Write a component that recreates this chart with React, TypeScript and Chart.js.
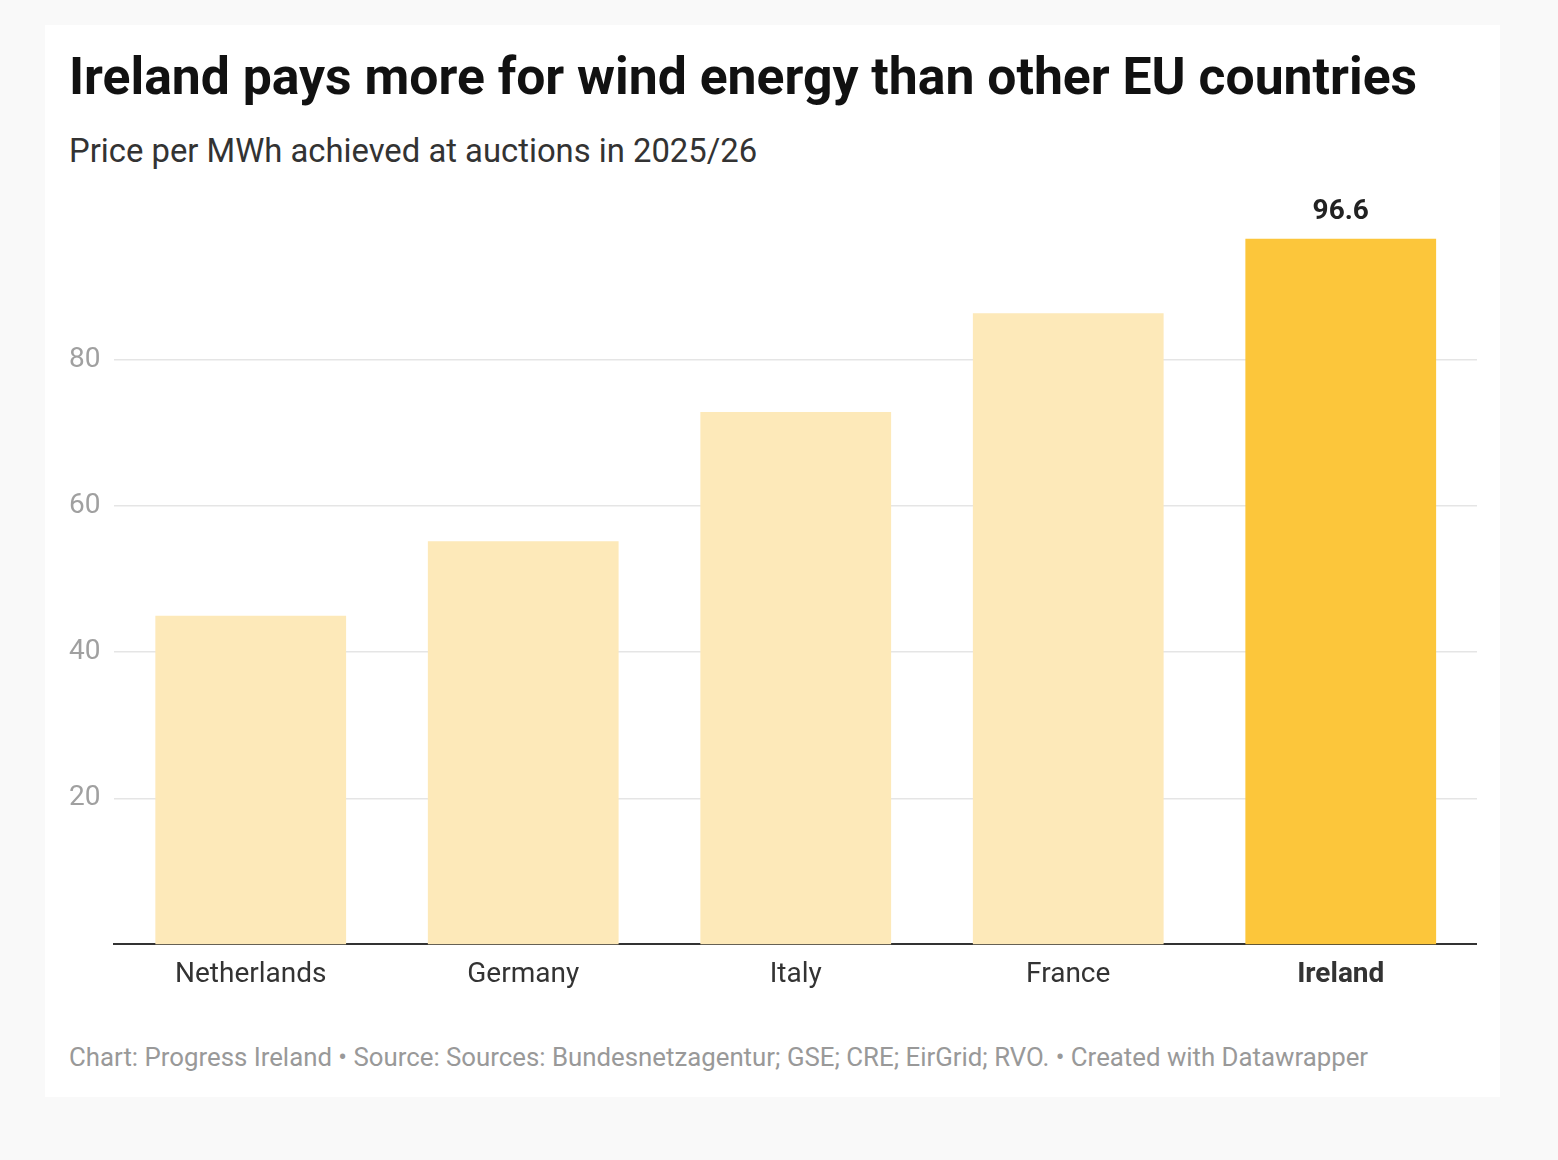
import React, { useEffect, useRef } from "react";
import { Chart, registerables } from "chart.js";

Chart.register(...registerables);

const countries = ["Netherlands", "Germany", "Italy", "France", "Ireland"];
const prices = [45, 55.2, 72.9, 86.4, 96.6];
const yTicks = [20, 40, 60, 80];
const highlight = "Ireland";

const FONT = "Roboto, 'Noto Sans', sans-serif";
const LIGHT = "#fde9b9";
const BRIGHT = "#fcc63b";

const valueLabelPlugin = {
  id: "valueLabel",
  afterDatasetsDraw(chart: Chart) {
    const ctx = chart.ctx;
    const meta = chart.getDatasetMeta(0);
    const idx = countries.indexOf(highlight);
    const bar: any = meta.data[idx];
    if (!bar) return;
    ctx.save();
    ctx.font = `bold 28px ${FONT}`;
    ctx.fillStyle = "#222";
    ctx.textAlign = "center";
    ctx.textBaseline = "middle";
    ctx.fillText(String(prices[idx]), bar.x, bar.y - 27);
    ctx.restore();
  },
};

export default function App() {
  const canvasRef = useRef<HTMLCanvasElement | null>(null);

  useEffect(() => {
    document.body.style.margin = "0";
    if (!canvasRef.current) return;
    const chart = new Chart(canvasRef.current, {
      type: "bar",
      data: {
        labels: countries,
        datasets: [
          {
            data: prices,
            backgroundColor: countries.map((c) => (c === highlight ? BRIGHT : LIGHT)),
            barPercentage: 0.7,
            categoryPercentage: 1,
          },
        ],
      },
      options: {
        responsive: false,
        animation: false,
        layout: { padding: { top: 34, right: 0, bottom: 0, left: 0 } },
        plugins: {
          legend: { display: false },
          tooltip: { enabled: false },
        },
        scales: {
          x: {
            grid: { display: false },
            border: { display: true, color: "#333", width: 2 },
            ticks: {
              padding: 6,
              font: (c: any) => ({
                family: FONT,
                size: 28,
                weight: countries[c.index] === highlight ? "bold" : "normal",
              }),
              color: "#333",
            },
          },
          y: {
            min: 0,
            max: 100,
            afterBuildTicks: (scale: any) => {
              scale.ticks = yTicks.map((v) => ({ value: v }));
            },
            grid: { color: "#e5e5e5", lineWidth: 1.5, drawTicks: false },
            border: { display: false },
            ticks: {
              padding: 7,
              crossAlign: "far",
              color: "#a0a0a0",
              font: { family: FONT, size: 28 },
            },
          },
        },
      },
      plugins: [valueLabelPlugin],
    });
    return () => chart.destroy();
  }, []);

  return (
    <div style={{ position: "relative", width: 1558, height: 1160, background: "#f9f9f9", fontFamily: FONT }}>
      <div style={{ position: "absolute", left: 45, top: 25, width: 1455, height: 1072, background: "#fff" }}>
        <div style={{ position: "absolute", left: 24, top: 22, fontSize: 51.7, fontWeight: 700, color: "#111", whiteSpace: "nowrap", lineHeight: "60px" }}>
          Ireland pays more for wind energy than other EU countries
        </div>
        <div style={{ position: "absolute", left: 24, top: 106, fontSize: 32.8, color: "#333", whiteSpace: "nowrap", lineHeight: "40px" }}>
          Price per MWh achieved at auctions in 2025/26
        </div>
        <canvas ref={canvasRef} width={1408} height={818} style={{ position: "absolute", left: 24, top: 155 }} />
        <div style={{ position: "absolute", left: 24, top: 1017, fontSize: 25.8, color: "#999", whiteSpace: "nowrap", lineHeight: "30px" }}>
          Chart: Progress Ireland • Source: Sources: Bundesnetzagentur; GSE; CRE; EirGrid; RVO. • Created with Datawrapper
        </div>
      </div>
    </div>
  );
}
